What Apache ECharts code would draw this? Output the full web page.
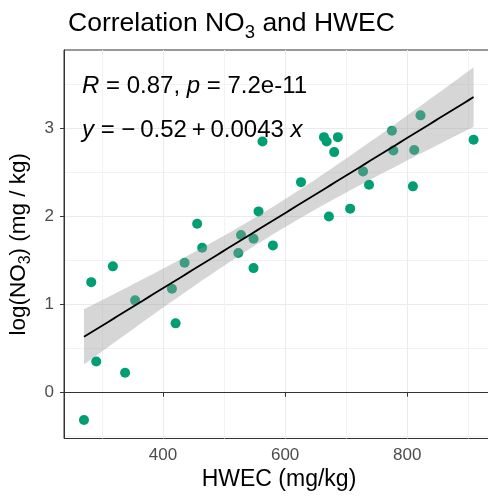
<!DOCTYPE html>
<html>
<head>
<meta charset="utf-8">
<script src="https://cdn.jsdelivr.net/npm/echarts@6/dist/echarts.min.js"></script>
<style>
html,body{margin:0;padding:0;background:#fff;}
#chart{width:488px;height:496px;}
</style>
</head>
<body>
<div id="chart"></div>
<script>
// ---- data ----
const hwec = [270.7, 290.8, 338, 282.6, 354.4, 414.7, 420.7, 318, 563, 556.5, 456, 464.2, 435.4, 527.8, 548.3, 523.4, 548.3, 580, 626, 671.7, 706.5, 737.4, 727.6, 663.6, 668, 686.4, 680.4, 774.9, 777.2, 811.4, 809.2, 908.6, 821.7];
const logNO3 = [-0.31, 0.355, 0.227, 1.255, 1.048, 1.18, 0.787, 1.434, 2.852, 2.058, 1.918, 1.646, 1.475, 1.789, 1.748, 1.585, 1.414, 1.672, 2.39, 2.001, 2.089, 2.361, 2.512, 2.901, 2.852, 2.901, 2.731, 2.974, 2.75, 2.754, 2.342, 2.872, 3.148];
const xTickLabels = [400, 600, 800];
const xMinorLines = [300, 500, 700, 900];
const yTickLabels = [0, 1, 2, 3];
const yMinorLines = [-0.5, 0.5, 1.5, 2.5, 3.5];
const statLine1 = ['R', ' = 0.87, ', 'p', ' = 7.2e-11'];
const statLine2 = ['y', ' = \u2212\u20090.52\u2009+\u20090.0043 ', 'x'];

// ---- linear fit with 95% confidence band ----
const n = hwec.length;
const mx = hwec.reduce((a, b) => a + b, 0) / n;
const my = logNO3.reduce((a, b) => a + b, 0) / n;
let sxx = 0, sxy = 0;
for (let i = 0; i < n; i++) { sxx += (hwec[i] - mx) ** 2; sxy += (hwec[i] - mx) * (logNO3[i] - my); }
const slope = sxy / sxx;
const intercept = my - slope * mx;
let sse = 0;
for (let i = 0; i < n; i++) { const r = logNO3[i] - (intercept + slope * hwec[i]); sse += r * r; }
const sres = Math.sqrt(sse / (n - 2));
const tcrit = 2.0395; // t(0.975, df = 31)
const xmin = Math.min(...hwec), xmax = Math.max(...hwec);
const fitPts = [], upper = [], lower = [];
for (let k = 0; k < 80; k++) {
  const x = xmin + (xmax - xmin) * k / 79;
  const yhat = intercept + slope * x;
  const se = sres * Math.sqrt(1 / n + (x - mx) ** 2 / sxx);
  fitPts.push([x, yhat]);
  upper.push([x, yhat + tcrit * se]);
  lower.push([x, yhat - tcrit * se]);
}

const chart = echarts.init(document.getElementById('chart'), null, {renderer: 'canvas'});
const FONT = 'Liberation Sans, Arial, sans-serif';

chart.setOption({
  animation: false,
  backgroundColor: '#ffffff',
  title: {
    left: 63, top: 1,
    text: '{t|Correlation NO}{s|3}{t| and HWEC}',
    textStyle: {
      fontWeight: 'normal',
      rich: {
        t: {fontFamily: FONT, fontSize: 26.5, fontWeight: 'normal', color: '#000', lineHeight: 36},
        s: {fontFamily: FONT, fontSize: 18.5, fontWeight: 'normal', color: '#000', lineHeight: 18, verticalAlign: 'bottom'}
      }
    }
  },
  grid: {left: 64, top: 50, right: -6, bottom: 57.5, outerBoundsMode: 'none', containLabel: false,
         show: true, borderColor: '#333', borderWidth: 1, backgroundColor: 'transparent'},
  xAxis: [{
    type: 'value', min: 238, max: 942,
    name: 'HWEC (mg/kg)', nameLocation: 'middle', nameGap: 29,
    nameTextStyle: {fontFamily: FONT, fontSize: 23, color: '#000'},
    axisLine: {show: true, lineStyle: {color: '#333', width: 1}},
    axisTick: {show: true, length: 4, customValues: xTickLabels, lineStyle: {color: '#333'}},
    axisLabel: {customValues: xTickLabels, fontFamily: FONT, fontSize: 17, color: '#4D4D4D', margin: 8},
    splitLine: {show: true, lineStyle: {color: '#EBEBEB', width: 1}}
  }, {
    type: 'value', min: 238, max: 942, position: 'bottom',
    axisLine: {show: false}, axisLabel: {show: false},
    axisTick: {show: false, customValues: xMinorLines},
    splitLine: {show: true, lineStyle: {color: '#F3F3F3', width: 1}}
  }],
  yAxis: [{
    type: 'value', min: -0.52, max: 3.89,
    name: '{t|log(NO}{s|3}{t|) (mg / kg)}', nameLocation: 'middle', nameGap: 23,
    nameTextStyle: {
      rich: {
        t: {fontFamily: FONT, fontSize: 22.5, color: '#000', lineHeight: 30},
        s: {fontFamily: FONT, fontSize: 16, color: '#000', lineHeight: 16, verticalAlign: 'bottom'}
      }
    },
    axisLine: {show: true, lineStyle: {color: '#333', width: 1}},
    axisTick: {show: true, length: 4, customValues: yTickLabels, lineStyle: {color: '#333'}},
    axisLabel: {customValues: yTickLabels, fontFamily: FONT, fontSize: 17, color: '#4D4D4D', margin: 10},
    splitLine: {show: true, lineStyle: {color: '#EBEBEB', width: 1}}
  }, {
    type: 'value', min: -0.52, max: 3.89, position: 'left',
    axisLine: {show: false}, axisLabel: {show: false},
    axisTick: {show: false, customValues: yMinorLines},
    splitLine: {show: true, lineStyle: {color: '#F3F3F3', width: 1}}
  }],
  graphic: [
    {type: 'text', left: 82, top: 74, z: 100,
     style: {
       text: '{i|' + statLine1[0] + '}{n|' + statLine1[1] + '}{i|' + statLine1[2] + '}{n|' + statLine1[3] + '}',
       rich: {
         i: {fontFamily: FONT, fontSize: 24, fontStyle: 'italic', fill: '#000'},
         n: {fontFamily: FONT, fontSize: 24, fill: '#000'}
       }
     }},
    {type: 'text', left: 82, top: 118, z: 100,
     style: {
       text: '{i|' + statLine2[0] + '}{n|' + statLine2[1] + '}{i|' + statLine2[2] + '}',
       rich: {
         i: {fontFamily: FONT, fontSize: 24, fontStyle: 'italic', fill: '#000'},
         n: {fontFamily: FONT, fontSize: 24, fill: '#000'}
       }
     }}
  ],
  series: [
    {
      type: 'scatter', xAxisIndex: 0, yAxisIndex: 0, z: 2,
      symbol: 'circle', symbolSize: 10,
      itemStyle: {color: '#009E73', opacity: 1},
      data: hwec.map((x, i) => [x, logNO3[i]])
    },
    {
      type: 'custom', xAxisIndex: 0, yAxisIndex: 0, z: 3,
      data: [[xmin, intercept + slope * xmin]],
      renderItem: function (params, api) {
        const pts = upper.map(p => api.coord(p)).concat(lower.slice().reverse().map(p => api.coord(p)));
        return {type: 'polygon', shape: {points: pts}, style: {fill: 'rgba(153,153,153,0.4)', stroke: null}};
      },
      silent: true
    },
    {
      type: 'line', xAxisIndex: 0, yAxisIndex: 0, z: 4,
      showSymbol: false, symbol: 'none',
      lineStyle: {color: '#000', width: 1.8},
      data: fitPts
    }
  ]
});
</script>
</body>
</html>
